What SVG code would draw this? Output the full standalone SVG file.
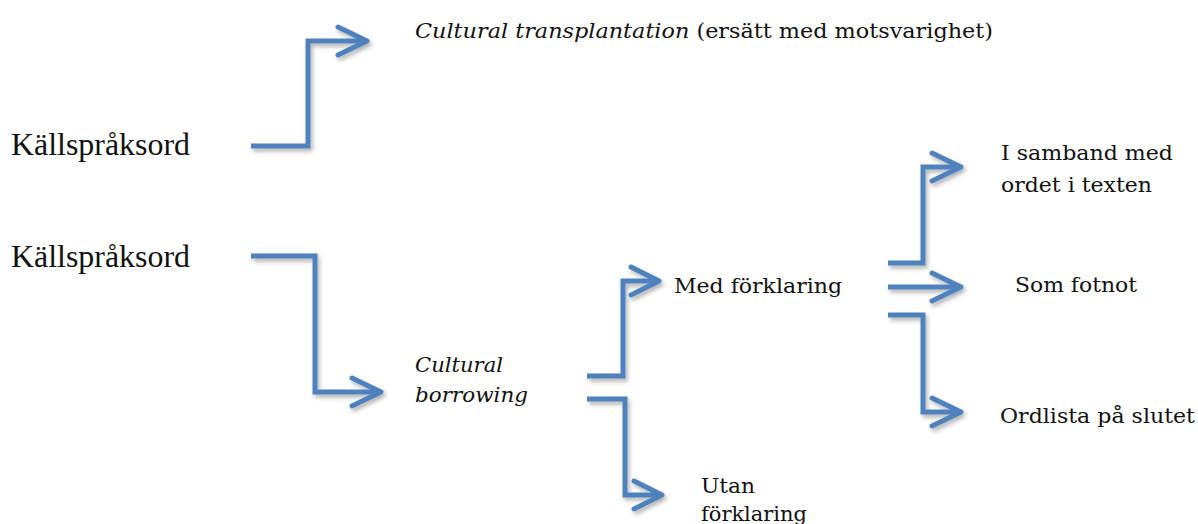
<svg xmlns="http://www.w3.org/2000/svg" width="1198" height="524" viewBox="0 0 1198 524">
<style>
.c{fill:none;stroke:#4f81bd;stroke-width:5;stroke-linejoin:miter;stroke-linecap:butt}
.h{fill:none;stroke:#4f81bd;stroke-width:5;stroke-linecap:round;stroke-linejoin:round}
.t{font-family:"DejaVu Serif","Liberation Serif",serif;font-size:21px;fill:#111}
.i{font-style:italic}
.big{font-family:"Liberation Serif",serif;font-size:31px;fill:#111}
</style>
<defs>
<filter id="sh" x="-20%" y="-20%" width="140%" height="140%">
<feDropShadow dx="2" dy="3" stdDeviation="2" flood-color="#000" flood-opacity="0.3"/>
</filter>
</defs>
<g id="src1"><text class="big" x="11" y="155" textLength="179" lengthAdjust="spacingAndGlyphs">Källspråksord</text></g>
<g id="src2"><text class="big" x="11" y="267" textLength="179" lengthAdjust="spacingAndGlyphs">Källspråksord</text></g>
<g id="transplant"><text class="t" x="415" y="38" textLength="578" lengthAdjust="spacingAndGlyphs"><tspan class="i">Cultural transplantation</tspan> (ersätt med motsvarighet)</text></g>
<g id="borrowing"><text class="t i" x="415" y="372" textLength="88" lengthAdjust="spacingAndGlyphs">Cultural</text><text class="t i" x="415" y="402" textLength="113" lengthAdjust="spacingAndGlyphs">borrowing</text></g>
<g id="med"><text class="t" x="674" y="293" textLength="168" lengthAdjust="spacingAndGlyphs">Med förklaring</text></g>
<g id="utan"><text class="t" x="701" y="493" textLength="54" lengthAdjust="spacingAndGlyphs">Utan</text><text class="t" x="701" y="521" textLength="106" lengthAdjust="spacingAndGlyphs">förklaring</text></g>
<g id="samband"><text class="t" x="1001" y="160" textLength="172" lengthAdjust="spacingAndGlyphs">I samband med</text><text class="t" x="1001" y="192" textLength="151" lengthAdjust="spacingAndGlyphs">ordet i texten</text></g>
<g id="fotnot"><text class="t" x="1015" y="292" textLength="122" lengthAdjust="spacingAndGlyphs">Som fotnot</text></g>
<g id="ordlista"><text class="t" x="1000" y="423" textLength="195" lengthAdjust="spacingAndGlyphs">Ordlista på slutet</text></g>
<g id="connectors" filter="url(#sh)">
<path class="c" d="M251 146H308V41H366"/><path class="h" d="M338 27L367 41L338 55"/>
<path class="c" d="M251 256H315V392H380"/><path class="h" d="M352 378L381 392L352 406"/>
<path class="c" d="M587 376H623V281H658"/><path class="h" d="M631 267L659 281L631 295"/>
<path class="c" d="M587 399H625V495H661"/><path class="h" d="M634 481L662 495L634 509"/>
<path class="c" d="M888 263H923V167H960"/><path class="h" d="M932 153L961 167L932 181"/>
<path class="c" d="M888 287H960"/><path class="h" d="M932 273L961 287L932 301"/>
<path class="c" d="M888 315H923V412H960"/><path class="h" d="M932 398L961 412L932 426"/>
</g>
</svg>
